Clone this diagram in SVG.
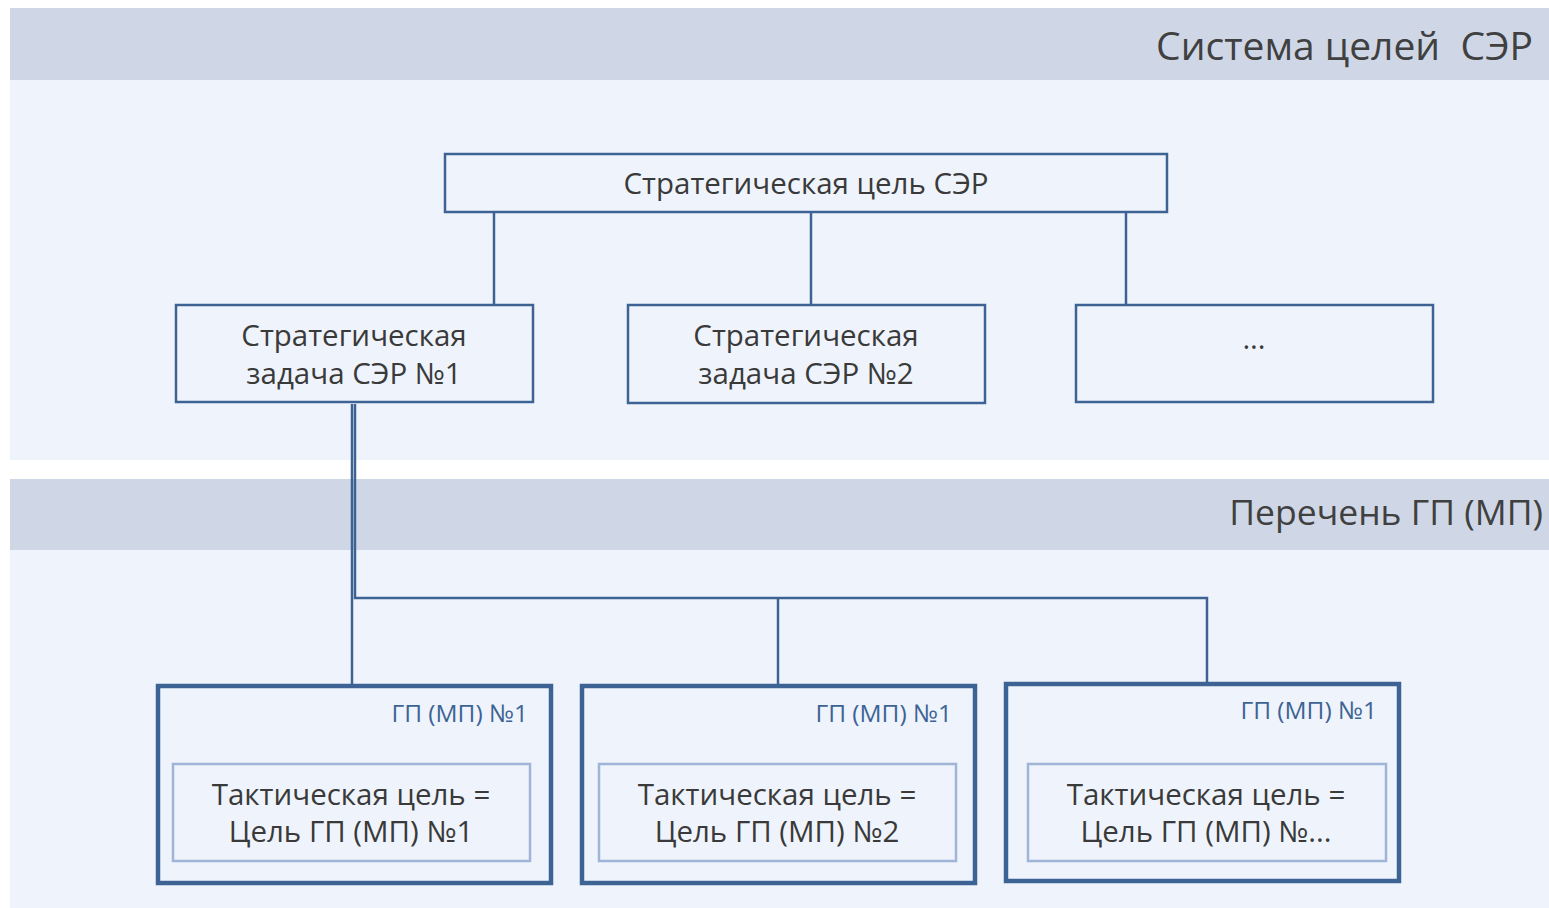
<svg xmlns="http://www.w3.org/2000/svg" width="1549" height="908" viewBox="0 0 1549 908">
<style>
.band{fill:#CFD7E6}
.area{fill:#EFF4FC}
.box{fill:#EFF4FC;stroke:#3D6394;stroke-width:2.5}
.outer{fill:#EFF4FC;stroke:#3D6394;stroke-width:4.5}
.inner{fill:#EFF4FC;stroke:#A0B4D8;stroke-width:2.5}
.conn{fill:none;stroke:#3D6394;stroke-width:2.5}
text{font-family:"Open Sans","Noto Sans","DejaVu Sans",sans-serif;fill:#3A3A3A}
.t{font-size:29.5px;text-anchor:middle}
.hdr{font-size:39px;text-anchor:end;fill:#404040;white-space:pre}
.hdr2{font-size:35.5px;text-anchor:end;fill:#404040}
.lbl{font-size:24.5px;text-anchor:end;fill:#3D6394}
</style>
<rect x="0" y="0" width="1549" height="908" fill="#FFFFFF"/>
<rect class="band" x="10" y="8" width="1539" height="72"/>
<rect class="area" x="10" y="80" width="1539" height="380"/>
<rect class="band" x="10" y="479" width="1539" height="71"/>
<rect class="area" x="10" y="550" width="1539" height="358"/>
<text class="hdr" x="1533" y="60" xml:space="preserve">Система целей  СЭР</text>
<text class="hdr2" x="1543" y="525">Перечень ГП (МП)</text>

<g id="connectors">
<line class="conn" x1="494" y1="213" x2="494" y2="305"/>
<line class="conn" x1="811" y1="213" x2="811" y2="305"/>
<line class="conn" x1="1126" y1="213" x2="1126" y2="305"/>
<line class="conn" x1="352" y1="404" x2="352" y2="765"/>
<polyline class="conn" points="355,404 355,598 1207,598 1207,765"/>
<line class="conn" x1="778" y1="598" x2="778" y2="765"/>
</g>

<g id="top">
<rect class="box" x="445" y="154" width="722" height="58"/>
<text class="t" x="806" y="194">Стратегическая цель СЭР</text>
</g>
<g id="task1">
<rect class="box" x="176" y="305" width="357" height="97"/>
<text class="t" x="354" y="346">Стратегическая</text>
<text class="t" x="354" y="384">задача СЭР №1</text>
</g>
<g id="task2">
<rect class="box" x="628" y="305" width="357" height="98"/>
<text class="t" x="806" y="346">Стратегическая</text>
<text class="t" x="806" y="384">задача СЭР №2</text>
</g>
<g id="task3">
<rect class="box" x="1076" y="305" width="357" height="97"/>
<text class="t" x="1254" y="349">...</text>
</g>

<g id="gp1">
<rect class="outer" x="158" y="686" width="393" height="197"/>
<text class="lbl" x="528" y="722">ГП (МП) №1</text>
<rect class="inner" x="173" y="764" width="357" height="97"/>
<text class="t" x="351" y="805">Тактическая цель =</text>
<text class="t" x="351" y="842">Цель ГП (МП) №1</text>
</g>
<g id="gp2">
<rect class="outer" x="582" y="686" width="393" height="197"/>
<text class="lbl" x="952" y="722">ГП (МП) №1</text>
<rect class="inner" x="599" y="764" width="357" height="97"/>
<text class="t" x="777" y="805">Тактическая цель =</text>
<text class="t" x="777" y="842">Цель ГП (МП) №2</text>
</g>
<g id="gp3">
<rect class="outer" x="1006" y="684" width="393" height="197"/>
<text class="lbl" x="1377" y="719">ГП (МП) №1</text>
<rect class="inner" x="1028" y="764" width="358" height="97"/>
<text class="t" x="1206" y="805">Тактическая цель =</text>
<text class="t" x="1206" y="842">Цель ГП (МП) №...</text>
</g>
</svg>
